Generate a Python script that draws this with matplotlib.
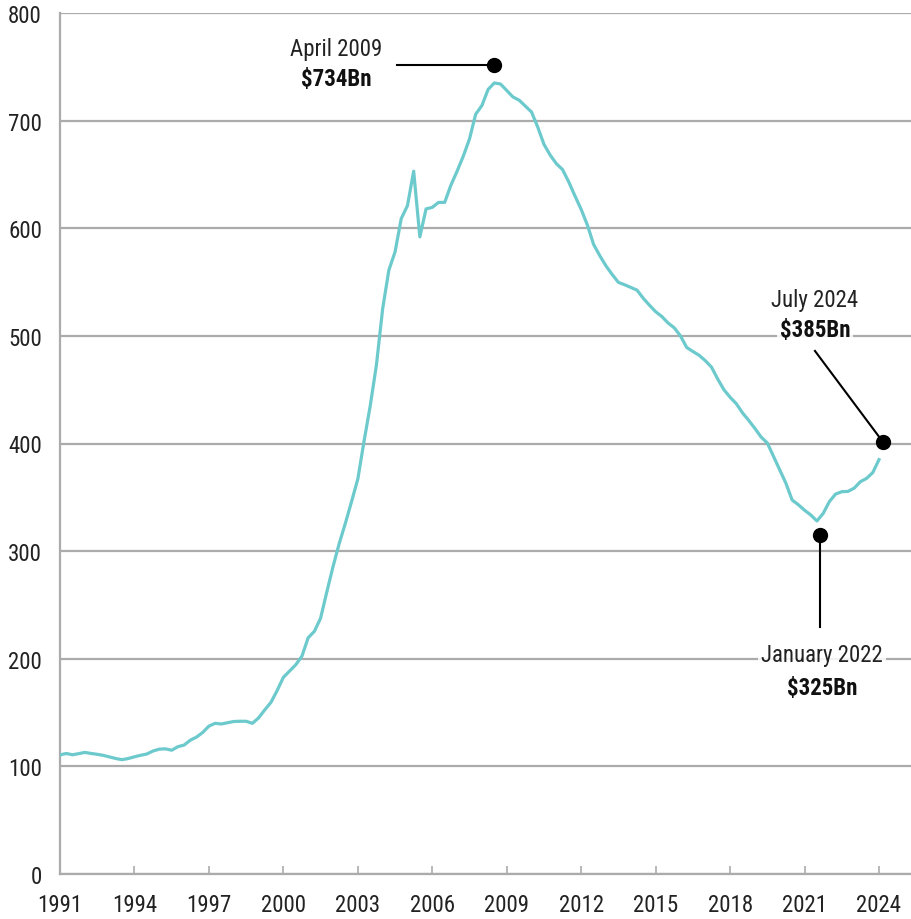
import numpy as np
import matplotlib
matplotlib.use("Agg")
import matplotlib.pyplot as plt
from matplotlib import font_manager

# quarterly series, 1991 Q1 .. 2024 Q1 on the axis scale ($Bn)
start_year = 1991
values = [
    110.6, 112, 110.8, 111.8, 113, 112, 111.2, 110.2, 108.8, 107.3,
    106.2, 107.3, 108.9, 110.3, 111.5, 114.3, 116, 116.3, 115, 118.3,
    119.8, 124.3, 127.2, 131.5, 137.4, 140, 139.4, 140.5, 141.7, 141.9,
    141.9, 140, 145, 152.5, 159.5, 170.5, 182.7, 188.5, 194.4, 202.5,
    219.5, 225.5, 237.7, 262, 285.5, 307, 326, 346.2, 367, 402,
    435, 473, 525, 561, 578, 609, 621, 653, 592, 618,
    619.4, 624, 624, 640, 653, 667, 683, 706, 714, 729,
    735, 734, 728, 722, 719, 713.5, 708, 694, 678, 668,
    660, 654.5, 643, 630, 617.5, 603, 585, 574.5, 565, 557,
    549.7, 547.5, 545, 542.5, 535, 528.5, 522.5, 518, 512, 507.5,
    500, 489.3, 485.5, 482, 477, 471, 460, 450, 443, 437,
    428.5, 421.5, 414, 406, 400.5, 388, 375.5, 363, 347.5, 343.1,
    338, 333.6, 328, 335, 346, 353, 355.2, 355.5, 358.5, 364.5,
    367.6, 373, 385,
]
years = start_year + 0.25 * np.arange(len(values))

tick_years = list(range(1991, 2025, 3))
y_ticks = [0, 100, 200, 300, 400, 500, 600, 700, 800]

# callouts: (label, value text, dot x, dot y, line end x, line end y, text x, text y)
callouts = [
    ("April 2009", "$734Bn", 2008.49, 751.7, 2004.58, 751.7, 2002.12, 766.6, 738.7),
    ("July 2024", "$385Bn", 2024.16, 401.4, 2021.42, 486.0, 2021.42, 534.0, 505.5),
    ("January 2022", "$325Bn", 2021.62, 315.0, 2021.62, 229.5, 2021.7, 203.5, 173.7),
]

names = {f.name for f in font_manager.fontManager.ttflist}
fam = [f for f in ["Liberation Sans Narrow", "Roboto Condensed", "Liberation Sans"] if f in names]
plt.rcParams['font.family'] = fam + ['DejaVu Sans']

line_color = '#6ccacd'
grid_color = '#ababab'

fig = plt.figure(figsize=(9.12, 9.2), dpi=100)
ax = fig.add_axes([60 / 912, 45 / 920, 852 / 912, 861 / 920])

ax.plot(years, values, color=line_color, lw=2.3, zorder=3, solid_joinstyle='round')

ax.set_xlim(1991, 2025.33)
ax.set_ylim(0, 800)
ax.set_yticks(y_ticks)
ax.set_xticks(tick_years)
ax.set_xticklabels([str(y) for y in tick_years])
ax.yaxis.grid(True, color=grid_color, lw=1.6, zorder=1)
ax.set_axisbelow(True)

for s in ['top', 'right']:
    ax.spines[s].set_visible(False)
for s in ['left', 'bottom']:
    ax.spines[s].set_color(grid_color)
    ax.spines[s].set_linewidth(1.6)

ax.tick_params(axis='x', direction='in', length=6, width=1.2, color=grid_color,
               labelsize=16.5, pad=14, labelcolor='#222222')
ax.tick_params(axis='y', length=0, labelsize=16.5, pad=13, labelcolor='#222222')

for label, val, dx, dy, lx, ly, tx, ty1, ty2 in callouts:
    ax.plot([lx, dx], [ly, dy], color='black', lw=1.5, zorder=4)
    ax.plot(dx, dy, 'o', color='black', ms=10, zorder=5)
    box = dict(facecolor='white', edgecolor='none', alpha=0.85, pad=2)
    ax.text(tx, ty1, label, ha='center', va='center', fontsize=16.5,
            color='#222222', bbox=box, zorder=6)
    ax.text(tx, ty2, val, ha='center', va='center', fontsize=16.5,
            fontweight='bold', color='#111111', bbox=box, zorder=6)

fig.savefig('out.png', dpi=100)
